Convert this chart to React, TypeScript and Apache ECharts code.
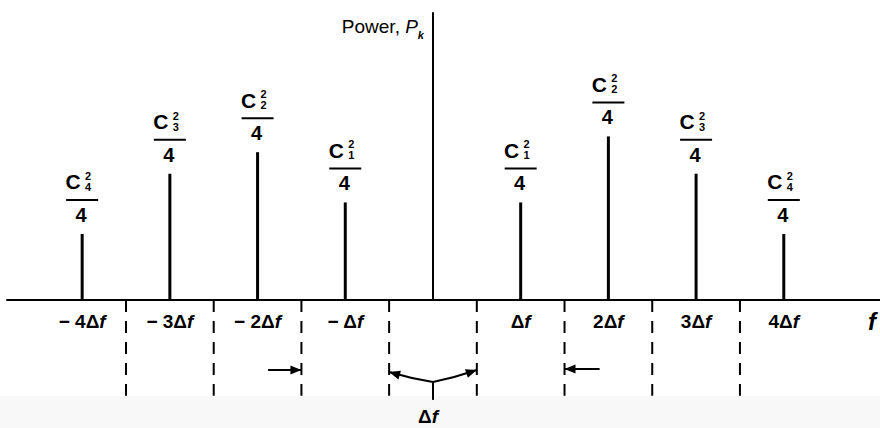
import React, { useEffect, useRef } from "react";
import * as echarts from "echarts";

// Spectral lines of a periodic signal: power C_k^2/4 at each harmonic k·Δf
const harmonics = [-4, -3, -2, -1, 1, 2, 3, 4];
const powers = [0.23, 0.44, 0.515, 0.34, 0.34, 0.57, 0.44, 0.23];
const coefficientIndex = ["4", "3", "2", "1", "1", "2", "3", "4"];
const tickLabels = ["− 4Δ", "− 3Δ", "− 2Δ", "− Δ", "Δ", "2Δ", "3Δ", "4Δ"];

// Frequency bin boundaries (half way between harmonics), drawn below the axis
const binEdges = [-3.5, -2.5, -1.5, -0.5, 0.5, 1.5, 2.5, 3.5];
const binDepth = -0.334;

// Bin-width annotations below the frequency axis (data units)
const sideArrowLeft = [[-1.88, -0.244], [-1.5, -0.244]];
const sideArrowRight = [[1.9, -0.24], [1.5, -0.24]];
const bracketJoin = [0, -0.286];
const bracketLeft = [-0.5, -0.251];
const bracketRight = [0.5, -0.244];
const bracketStemEnd = [0, -0.348];

const FONT = '"Liberation Sans", Arial, sans-serif';
const INK = "#000";

export default function App() {
  const ref = useRef<HTMLDivElement>(null);

  useEffect(() => {
    document.body.style.margin = "0";
    if (!ref.current) return;
    const chart = echarts.init(ref.current, undefined, { renderer: "svg" });

    const txt = (text: string, x: number, y: number, size: number) => ({
      type: "text",
      x,
      y,
      style: {
        text,
        fill: INK,
        fontSize: size,
        fontWeight: "bold",
        fontFamily: FONT,
        align: "center",
        verticalAlign: "middle",
      },
    });

    const arrowHead = (tip: number[], from: number[], len = 11, half = 4.5) => {
      const dx = tip[0] - from[0];
      const dy = tip[1] - from[1];
      const l = Math.hypot(dx, dy) || 1;
      const ux = dx / l;
      const uy = dy / l;
      const bx = tip[0] - ux * len;
      const by = tip[1] - uy * len;
      return {
        type: "polygon",
        shape: {
          points: [
            [tip[0], tip[1]],
            [bx - uy * half, by + ux * half],
            [bx + uy * half, by - ux * half],
          ],
        },
        style: { fill: INK },
      };
    };

    const seg = (a: number[], b: number[], w = 2) => ({
      type: "line",
      shape: { x1: a[0], y1: a[1], x2: b[0], y2: b[1] },
      style: { stroke: INK, lineWidth: w },
    });

    const richF = {
      d: { fill: INK, fontSize: 19, fontWeight: "bold", fontFamily: FONT },
      f: { fill: INK, fontSize: 19, fontWeight: "bold", fontStyle: "italic", fontFamily: FONT },
    };

    chart.setOption({
      animation: false,
      backgroundColor: "#fff",
      color: [INK],
      graphic: [
        {
          type: "rect",
          left: 0,
          top: 396,
          shape: { width: 880, height: 32 },
          style: { fill: "#f8f8f8" },
          z: -10,
          silent: true,
        },
      ],
      grid: { left: 7, right: 0, top: 13, bottom: 128, outerBoundsMode: "none" },
      xAxis: {
        type: "value",
        min: -4.857,
        max: 5.097,
        name: "f",
        nameLocation: "end",
        nameGap: -8,
        nameTextStyle: {
          color: INK,
          fontSize: 24,
          fontWeight: "bold",
          fontStyle: "italic",
          fontFamily: FONT,
          align: "center",
          verticalAlign: "top",
          padding: [9, 0, 0, 0],
        },
        axisLine: { show: true, onZero: false, lineStyle: { color: INK, width: 2 } },
        axisTick: { show: false },
        splitLine: { show: false },
        axisLabel: {
          customValues: harmonics,
          margin: 12,
          formatter: (v: number) => {
            const i = harmonics.indexOf(v);
            return i < 0 ? "" : `{n|${tickLabels[i]}}{f|f}`;
          },
          rich: {
            n: { color: INK, fontSize: 19, fontWeight: "bold", fontFamily: FONT },
            f: { color: INK, fontSize: 19, fontWeight: "bold", fontStyle: "italic", fontFamily: FONT },
          },
        },
      },
      yAxis: {
        type: "value",
        min: 0,
        max: 1,
        name: "{a|Power, }{p|P}{k|k}",
        nameLocation: "end",
        nameGap: 0,
        nameTextStyle: {
          align: "right",
          verticalAlign: "top",
          padding: [0, 9, 0, 0],
          rich: {
            a: { color: INK, fontSize: 19, fontFamily: FONT, lineHeight: 20 },
            p: { color: INK, fontSize: 19, fontStyle: "italic", fontFamily: FONT, lineHeight: 20 },
            k: {
              color: INK,
              fontSize: 11,
              fontWeight: "bold",
              fontStyle: "italic",
              fontFamily: FONT,
              padding: [16, 0, 0, 0],
            },
          },
        },
        axisLine: { show: true, onZero: true, lineStyle: { color: INK, width: 2 } },
        axisTick: { show: false },
        axisLabel: { show: false },
        splitLine: { show: false },
      },
      series: [
        {
          type: "custom",
          name: "bins",
          clip: false,
          data: binEdges.map((e) => [e, binDepth]),
          encode: { x: 0, y: 1 },
          renderItem: (_params: any, api: any) => {
            const e = api.value(0);
            const a = api.coord([e, 0]);
            const b = api.coord([e, api.value(1)]);
            return {
              type: "line",
              shape: { x1: a[0], y1: a[1], x2: b[0], y2: b[1] },
              style: { stroke: INK, lineWidth: 2, lineDash: [12, 9] },
            };
          },
        },
        {
          type: "custom",
          name: "bin width",
          clip: false,
          data: [bracketJoin],
          encode: { x: 0, y: 1 },
          renderItem: (_params: any, api: any) => {
            const la = api.coord(sideArrowLeft[0]);
            const lb = api.coord(sideArrowLeft[1]);
            const ra = api.coord(sideArrowRight[0]);
            const rb = api.coord(sideArrowRight[1]);
            const j = api.coord(bracketJoin);
            const l = api.coord(bracketLeft);
            const r = api.coord(bracketRight);
            const s = api.coord(bracketStemEnd);
            const cl = [(l[0] + j[0]) / 2, (l[1] + j[1]) / 2 + 1.5];
            const cr = [(r[0] + j[0]) / 2, (r[1] + j[1]) / 2 + 1.5];
            return {
              type: "group",
              children: [
                seg(la, lb),
                arrowHead(lb, la),
                seg(ra, rb),
                arrowHead(rb, ra),
                {
                  type: "bezierCurve",
                  shape: { x1: j[0], y1: j[1], x2: l[0], y2: l[1], cpx1: cl[0], cpy1: cl[1] },
                  style: { stroke: INK, lineWidth: 2, fill: null },
                },
                arrowHead(l, cl),
                {
                  type: "bezierCurve",
                  shape: { x1: j[0], y1: j[1], x2: r[0], y2: r[1], cpx1: cr[0], cpy1: cr[1] },
                  style: { stroke: INK, lineWidth: 2, fill: null },
                },
                arrowHead(r, cr),
                seg(j, s),
                {
                  type: "text",
                  x: s[0] - 5,
                  y: s[1] + 17,
                  style: {
                    text: "{d|Δ}{f|f}",
                    rich: richF,
                    align: "center",
                    verticalAlign: "middle",
                  },
                },
              ],
            };
          },
        },
        {
          type: "custom",
          name: "power",
          data: harmonics.map((h, i) => [h, powers[i]]),
          encode: { x: 0, y: 1 },
          renderItem: (params: any, api: any) => {
            const x = api.value(0);
            const base = api.coord([x, 0]);
            const top = api.coord([x, api.value(1)]);
            const tx = top[0];
            const ty = top[1];
            const k = coefficientIndex[params.dataIndex];
            return {
              type: "group",
              children: [
                {
                  type: "line",
                  shape: { x1: base[0], y1: base[1], x2: tx, y2: ty },
                  style: { stroke: INK, lineWidth: 3 },
                },
                txt("C", tx - 9, ty - 52, 21),
                txt("2", tx + 6, ty - 58, 11),
                txt(k, tx + 6, ty - 47, 11),
                {
                  type: "line",
                  shape: { x1: tx - 16, y1: ty - 34, x2: tx + 16, y2: ty - 34 },
                  style: { stroke: INK, lineWidth: 2 },
                },
                txt("4", tx - 1, ty - 19, 20),
              ],
            };
          },
        },
      ],
    });

    return () => chart.dispose();
  }, []);

  return <div ref={ref} style={{ width: 880, height: 428 }} />;
}
